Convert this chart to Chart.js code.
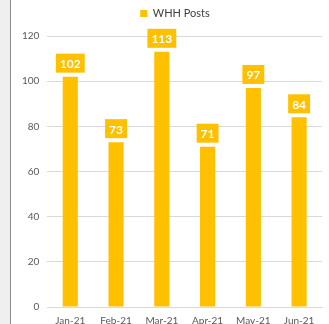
<!DOCTYPE html>
<html>
<head>
<meta charset="utf-8">
<script src="https://cdn.jsdelivr.net/npm/chart.js@4.4.1/dist/chart.umd.min.js"></script>
<style>
  html, body { margin: 0; padding: 0; background: #fff; }
  body { width: 329px; height: 324px; position: relative; overflow: hidden; }
  .side { position: absolute; left: 0; top: 0; width: 10px; height: 324px; background: #efefef; border-right: 1px solid #8c8c8c; }
  .wrap { position: absolute; left: 11px; top: 0; width: 318px; height: 327px; }
</style>
</head>
<body>
<div class="side"></div>
<div class="wrap"><canvas id="postsChart"></canvas></div>
<script>
const months = ['Jan-21', 'Feb-21', 'Mar-21', 'Apr-21', 'May-21', 'Jun-21'];
const whhPosts = [102, 73, 113, 71, 97, 84];
const yTicks = [0, 20, 40, 60, 80, 100, 120];

const GOLD = '#ffc000';
const FONT = 'Lato, "Open Sans", sans-serif';

// extra room between the legend and the plot, legend nudged right
const legendGap = {
  id: 'legendGap',
  beforeInit(chart) {
    const fit = chart.legend.fit;
    chart.legend.fit = function () {
      fit.call(this);
      this.height += 7;
    };
  },
  afterUpdate(chart) {
    chart.legend.left += 7;
    chart.legend.right += 7;
  }
};

// value boxes above each bar
const valueBoxes = {
  id: 'valueBoxes',
  afterDatasetsDraw(chart) {
    const ctx = chart.ctx;
    const meta = chart.getDatasetMeta(0);
    ctx.save();
    ctx.font = 'bold 12px ' + FONT;
    ctx.textAlign = 'center';
    ctx.textBaseline = 'middle';
    meta.data.forEach((bar, i) => {
      const text = String(chart.data.datasets[0].data[i]);
      const w = ctx.measureText(text).width + 8;
      const h = 19;
      const bottom = bar.y - 4;
      ctx.fillStyle = GOLD;
      ctx.fillRect(bar.x - w / 2, bottom - h, w, h);
      ctx.fillStyle = '#fff';
      ctx.fillText(text, bar.x, bottom - h / 2 + 1);
    });
    ctx.restore();
  }
};

new Chart(document.getElementById('postsChart'), {
  type: 'bar',
  data: {
    labels: months,
    datasets: [{
      label: 'WHH Posts',
      data: whhPosts,
      backgroundColor: GOLD,
      borderWidth: 0,
      barPercentage: 0.5,
      categoryPercentage: 0.66
    }]
  },
  options: {
    responsive: true,
    maintainAspectRatio: false,
    animation: false,
    layout: { padding: { left: 3, right: 7, top: 0, bottom: 0 } },
    plugins: {
      legend: {
        position: 'top',
        labels: {
          color: '#404040',
          font: { family: FONT, size: 11 },
          boxWidth: 7,
          boxHeight: 7,
          padding: 8
        }
      },
      tooltip: { enabled: false }
    },
    scales: {
      y: {
        min: 0,
        max: 120,
        afterBuildTicks(scale) {
          scale.ticks = yTicks.map(v => ({ value: v }));
        },
        border: { display: false },
        grid: { color: '#d9d9d9', drawTicks: false },
        ticks: {
          color: '#595959',
          font: { family: FONT, size: 10 },
          padding: 8
        }
      },
      x: {
        border: { color: '#d9d9d9' },
        grid: { display: false },
        ticks: {
          color: '#595959',
          font: { family: FONT, size: 10 },
          padding: 0,
          maxRotation: 0
        }
      }
    }
  },
  plugins: [legendGap, valueBoxes]
});
</script>
</body>
</html>
